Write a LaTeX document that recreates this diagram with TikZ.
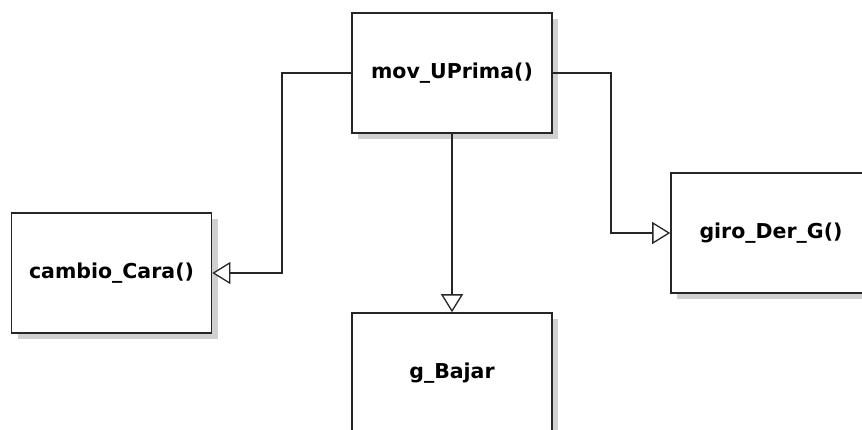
\documentclass[tikz,border=0pt]{standalone}
\usepackage{fontspec}
\setmainfont{DejaVu Sans}
\usetikzlibrary{arrows.meta,shadows}
\definecolor{shadowgray}{HTML}{D0D0D0}
\begin{document}
\begin{tikzpicture}[x=1pt,y=-1pt,
  box/.style={draw=black!85, line width=1.6pt, fill=white, rectangle,
    minimum width=200pt, minimum height=120pt, inner sep=0pt,
    font=\bfseries\fontsize{20.5}{24}\selectfont,
    drop shadow={shadow xshift=6pt, shadow yshift=-6pt, fill=shadowgray, opacity=1}},
  conn/.style={draw=black!85, line width=1.3pt,
    -{Triangle[open, length=18pt, width=22pt, fill=white, line width=1.3pt]}}]
\useasboundingbox (0,0) rectangle (862,429);
\clip (0,0) rectangle (862,429);
\fill[white] (0,0) rectangle (862,429);
\node[box] (mov) at (452,73) {mov\_UPrima()};
\node[box] (cambio) at (111.5,273) {cambio\_Cara()};
\node[box] (gbajar) at (452,373) {g\_Bajar};
\node[box] (giro) at (771,233) {giro\_Der\_G()};
\coordinate (lc) at (282,73);
\coordinate (rc) at (611,73);
\draw[conn] (mov.west) -- (lc) |- (cambio.east);
\draw[conn] (mov.east) -- (rc) |- (giro.west);
\draw[conn] (mov.south) -- (gbajar.north);
\end{tikzpicture}
\end{document}
